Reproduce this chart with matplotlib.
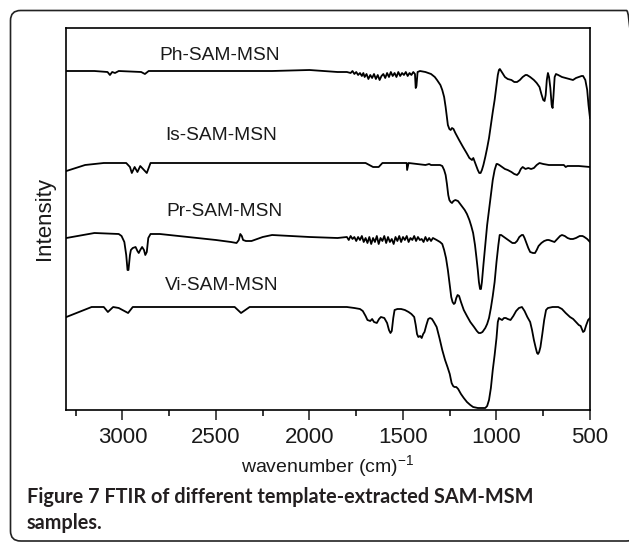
import matplotlib
matplotlib.use("Agg")
import matplotlib.pyplot as plt
from matplotlib.patches import FancyBboxPatch
from matplotlib.transforms import IdentityTransform

plt.rcParams['font.family'] = ['Liberation Sans', 'DejaVu Sans']
plt.rcParams['mathtext.fontset'] = 'custom'
plt.rcParams['mathtext.rm'] = 'Liberation Sans'
plt.rcParams['mathtext.it'] = 'Liberation Sans:italic'

# FTIR spectra (wavenumber in cm-1, intensity in arbitrary offset units)
ph_wn = [3300, 3150, 3080, 3067, 3055, 3040, 3020, 2900, 2880, 2860, 2500, 2200, 2000,
         1850, 1800, 1780, 1770, 1760, 1750, 1740, 1730, 1720, 1712, 1705, 1695, 1685,
         1675, 1665, 1655, 1645, 1635, 1625, 1615, 1605, 1595, 1585, 1575, 1565, 1555,
         1545, 1535, 1525, 1515, 1505, 1495, 1485, 1475, 1465, 1455, 1445, 1436, 1432,
         1428, 1422, 1409, 1380, 1350, 1330, 1318, 1300, 1290, 1280, 1272, 1265, 1260,
         1252, 1245, 1238, 1230, 1220, 1200, 1179, 1160, 1145, 1131, 1124, 1118, 1110,
         1100, 1092, 1085, 1078, 1070, 1060, 1050, 1040, 1030, 1020, 1010, 1000, 993,
         987, 982, 975, 965, 955, 940, 920, 905, 890, 875, 860, 845, 837, 820, 800,
         785, 770, 760, 750, 743, 737, 731, 725, 719, 712, 705, 700, 695, 689, 682,
         670, 650, 630, 610, 591, 575, 560, 545, 537, 525, 515, 508, 500]
ph_int = [339, 339, 338, 335, 338, 337, 339, 338, 336, 339, 339, 339, 340,
          338, 338, 337, 339, 336, 338, 335, 337, 334, 337, 333, 336, 331,
          335, 332, 336, 331, 335, 330, 334, 336, 332, 337, 333, 338, 334,
          337, 333, 338, 334, 337, 335, 338, 334, 337, 335, 338, 336, 322,
          324, 338, 339, 338, 336, 333, 330, 325, 320, 313, 303, 292, 285,
          281, 280, 282, 281, 277, 270, 263, 257, 252, 250, 252, 249, 245,
          240, 237, 237, 240, 245, 253, 262, 272, 285, 298, 310, 325, 335,
          340, 341, 339, 336, 333, 331, 330, 328, 328, 330, 333, 335, 335, 333, 330,
          327, 323, 316, 310, 309, 315, 330, 337, 333, 322, 305, 302, 315, 333, 336,
          335, 333, 332, 331, 330, 332, 333, 334, 334, 330, 320, 305, 292]

is_wn = [3300, 3200, 3100, 2980, 2960, 2950, 2935, 2920, 2905, 2870, 2850, 2500,
         1700, 1660, 1630, 1610, 1480, 1478, 1470, 1380, 1360, 1350, 1302, 1290,
         1280, 1272, 1265, 1258, 1252, 1245, 1238, 1230, 1220, 1206, 1190, 1170,
         1158, 1145, 1135, 1125, 1115, 1107, 1100, 1094, 1088, 1083, 1078, 1070,
         1060, 1050, 1040, 1030, 1020, 1010, 1000, 995, 985, 970, 955, 940, 920,
         905, 890, 880, 870, 860, 845, 830, 815, 800, 785, 770, 750, 720, 700,
         660, 640, 630, 620, 600, 560, 500]
is_int = [239, 245, 247, 247, 243, 237, 243, 238, 244, 237, 247, 247,
          247, 243, 243, 247, 247, 240, 247, 245, 246, 245, 245, 244,
          240, 235, 226, 215, 210, 208, 207, 209, 210, 209, 205, 200,
          196, 190, 184, 177, 165, 152, 140, 128, 121, 121, 128, 145,
          165, 185, 200, 215, 230, 240, 246, 246, 245, 243, 241, 240, 238,
          236, 235, 237, 241, 243, 241, 242, 241, 242, 245, 247, 246, 245, 245,
          245, 245, 243, 244, 244, 244, 243]

pr_wn = [3300, 3150, 3020, 3005, 2990, 2980, 2973, 2968, 2960, 2955, 2945, 2930,
         2920, 2913, 2905, 2895, 2885, 2878, 2870, 2862, 2850, 2800, 2700, 2600,
         2500, 2420, 2390, 2378, 2370, 2362, 2355, 2340, 2310, 2280, 2250, 2200,
         2000, 1850, 1800, 1790, 1780, 1770,
         1760, 1750, 1740, 1730, 1720, 1710, 1700, 1690, 1680, 1670, 1660, 1650,
         1640, 1630, 1620, 1610, 1600, 1590, 1580, 1570, 1560, 1550, 1540, 1530,
         1520, 1510, 1500, 1490, 1480, 1470, 1460, 1450, 1440, 1430, 1420, 1410,
         1400, 1390, 1380, 1370, 1360, 1350, 1340, 1320, 1302, 1290, 1280, 1270,
         1260, 1250, 1242, 1235, 1228, 1222, 1215, 1208, 1200, 1190, 1175, 1158,
         1140, 1120, 1105, 1095, 1085, 1075, 1060, 1050, 1040, 1030, 1020, 1010,
         1000, 990, 983, 975, 960, 945, 930, 915, 901, 890, 878, 865, 858, 850,
         840, 830, 820, 805, 794, 785, 775, 760, 745, 730, 720, 705, 690, 675,
         660, 650, 635, 620, 605, 591, 575, 555, 540, 530, 515, 500]
pr_int = [172, 177, 176, 174, 168, 155, 140, 140, 155, 160, 162, 163,
          159, 157, 160, 163, 160, 155, 158, 172, 176, 176, 174, 172,
          170, 168, 167, 170, 176, 174, 170, 169, 169, 171, 173, 175,
          173, 172, 173, 170, 174, 171,
          173, 169, 173, 170, 174, 168, 172, 167, 173, 166, 172, 168,
          174, 166, 172, 169, 174, 167, 173, 168, 171, 166, 173, 169,
          174, 168, 173, 170, 174, 168, 172, 170, 174, 169, 173, 170,
          171, 168, 173, 169, 172, 169, 172, 170, 168, 166, 160, 152,
          140, 125, 113, 108, 106, 107, 112, 115, 114, 108, 100, 94,
          88, 83, 79, 77, 77, 78, 82, 86, 92, 102, 114, 128,
          148, 165, 175, 175, 173, 171, 169, 167, 167, 169, 173, 175, 175, 172,
          167, 162, 158, 157, 157, 160, 164, 167, 169, 170, 170, 169, 168, 171,
          174, 175, 174, 172, 171, 171, 172, 174, 174, 173, 171, 168]

vi_wn = [3300, 3165, 3100, 3078, 3050, 3020, 2970, 2945, 2400, 2366, 2320, 2000,
         1800, 1760, 1730, 1715, 1700, 1690, 1675, 1665, 1655, 1640, 1628, 1618,
         1600, 1585, 1575, 1567, 1560, 1552, 1545, 1530, 1510, 1490, 1470, 1455,
         1440, 1432, 1425, 1418, 1408, 1400, 1392, 1385, 1375, 1365, 1355, 1345,
         1335, 1320, 1305, 1290, 1275, 1262, 1250, 1240, 1232, 1225, 1215, 1205,
         1190, 1175, 1158, 1140, 1125, 1100, 1077, 1060, 1050, 1040, 1030, 1020,
         1010, 1000, 993, 987, 980, 970, 960, 950, 940, 925, 910, 895, 880, 864,
         850, 835, 820, 810, 800, 790, 783, 778, 772, 765, 755, 745, 735, 725,
         700, 670, 650, 630, 607, 590, 575, 560, 550, 537, 530, 520, 510, 500]
vi_int = [93, 103, 103, 98, 103, 102, 97, 103, 103, 97, 103, 103,
          103, 102, 101, 99, 94, 90, 89, 91, 88, 87, 91, 93,
          92, 87, 80, 77, 79, 92, 100, 101, 101, 100, 98, 96,
          93, 85, 76, 73, 74, 72, 76, 78, 85, 91, 92, 91,
          88, 83, 72, 60, 50, 43, 36, 27, 24, 23, 23, 21,
          16, 12, 8, 5, 3, 2, 2, 2, 4, 10, 22, 40,
          55, 72, 88, 92, 91, 90, 92, 92, 91, 90, 94, 99, 102, 103,
          99, 93, 88, 80, 70, 62, 57, 56, 58, 63, 76, 90, 100, 102,
          103, 103, 101, 97, 93, 91, 88, 85, 84, 78, 79, 85, 90, 92]

labels = ['Ph-SAM-MSN', 'Is-SAM-MSN', 'Pr-SAM-MSN', 'Vi-SAM-MSN']
xticks = [3000, 2500, 2000, 1500, 1000, 500]

fig = plt.figure(figsize=(6.29, 5.42), dpi=100)
ax = fig.add_axes([66 / 629, 132 / 542, 524 / 629, 382 / 542])

for wn, inten in [(ph_wn, ph_int), (is_wn, is_int), (pr_wn, pr_int), (vi_wn, vi_int)]:
    ax.plot(wn, inten, color='black', lw=1.3)

# curve labels
label_pos = [(2478, 355), (2473, 274), (2457, 198), (2468, 125)]
for lab, (x, y) in zip(labels, label_pos):
    ax.text(x, y, lab, ha='center', va='center', fontsize=13.8, color='#1a1a1a')

ax.set_xlim(3302, 500)
ax.set_ylim(0, 382)
ax.set_xticks(xticks)
ax.set_xticks([3250, 2750, 2250, 1750, 1250, 750], minor=True)
ax.set_yticks([])
ax.tick_params(axis='x', which='major', direction='out', length=7, width=1.1,
               labelsize=16, pad=5, colors='#1a1a1a')
ax.tick_params(axis='x', which='minor', direction='out', length=4, width=1.1)
for s in ax.spines.values():
    s.set_linewidth(1.2)
ax.set_xlabel('wavenumber (cm)$^{-1}$', fontsize=14, labelpad=4, color='#1a1a1a')
ax.set_ylabel('Intensity', fontsize=16, labelpad=8, color='#1a1a1a')

# rounded frame around figure + caption
box = FancyBboxPatch((10.5, 1), 626, 530.5, boxstyle='round,pad=0,rounding_size=10',
                     transform=IdentityTransform(), fill=False, ec='#222222', lw=1.2)
fig.patches.append(box)
cap_font = dict(fontfamily='Lato', fontweight='bold', fontsize=14.3, color='#231f20',
                va='baseline')
fig.text(27 / 629, 1 - 503 / 542, 'Figure 7 FTIR of different template-extracted SAM-MSM',
         **cap_font)
fig.text(27 / 629, 1 - 529 / 542, 'samples.', **cap_font)

fig.savefig('out.png', dpi=100)
